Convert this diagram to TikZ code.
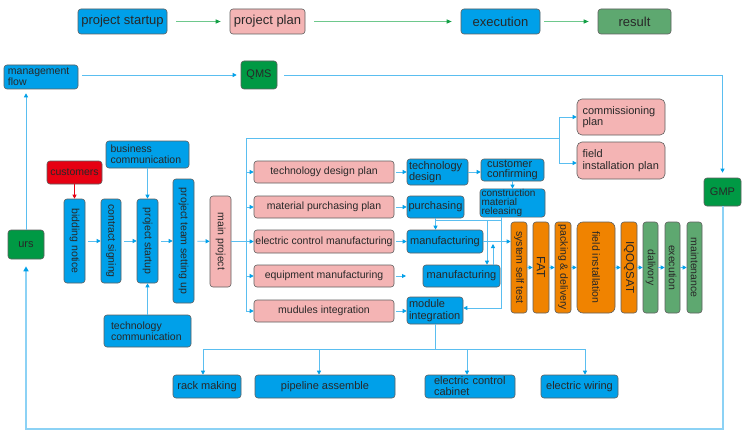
\documentclass[tikz,border=0pt]{standalone}
\usepackage{fontspec}
\setmainfont{Liberation Sans}
\usetikzlibrary{arrows.meta}
\definecolor{cBlue}{RGB}{0,160,233}
\definecolor{cPink}{RGB}{244,180,180}
\definecolor{cRed}{RGB}{230,0,18}
\definecolor{cGreen}{RGB}{0,153,68}
\definecolor{cMGreen}{RGB}{94,168,112}
\definecolor{cOrange}{RGB}{240,131,0}
\definecolor{lineC}{RGB}{90,190,240}
\definecolor{tipC}{RGB}{0,160,233}
\definecolor{gLine}{RGB}{110,200,140}
\definecolor{gTip}{RGB}{20,160,70}
\definecolor{bord}{RGB}{95,95,95}
\definecolor{txt}{RGB}{40,40,40}
\definecolor{thickC}{RGB}{140,210,245}
\tikzset{
  box/.style={draw=bord, line width=0.6pt, rounded corners=3pt, inner sep=1pt, text=txt,
    font=\fontsize{11}{11.5}\selectfont},
  fblue/.style={fill=cBlue},
  fpink/.style={fill=cPink},
  fred/.style={fill=cRed},
  fgreen/.style={fill=cGreen},
  fmgreen/.style={fill=cMGreen},
  forange/.style={fill=cOrange},
  big/.style={font=\fontsize{13}{14}\selectfont},
  mid/.style={font=\fontsize{10.5}{11}\selectfont},
  lft/.style={align=left, text width=#1},
  vtxt/.style={rotate=-90, text=txt, inner sep=0pt, font=\fontsize{10.5}{11}\selectfont},
  bline/.style={draw=lineC, line width=0.8pt},
  bar/.style={bline, -{Triangle[length=4pt,width=4pt,color=tipC]}},
  gar/.style={draw=gLine, line width=1pt, -{Triangle[length=5pt,width=4pt,color=gTip]}},
  rar/.style={draw=cRed, line width=0.8pt, -{Triangle[length=4pt,width=4pt]}},
  thk/.style={draw=thickC, line width=2pt}
}
\newcommand{\bx}[7]{\node[box,#6,minimum width={(#4-#2)*1pt},minimum height={(#5-#3)*1pt}] (#1) at ({(#2+#4)/2},{(#3+#5)/2}) {#7};}
\newcommand{\vbx}[7]{\node[box,#6,minimum width={(#4-#2)*1pt},minimum height={(#5-#3)*1pt}] (#1) at ({(#2+#4)/2},{(#3+#5)/2}) {};
\node[vtxt] (#1t) at (#1.center) {#7};}
\begin{document}
\begin{tikzpicture}[x=1pt,y=-1pt]
\useasboundingbox[fill=white] (0,0) rectangle (750,436);
% top row
\bx{ps}{78}{9}{167}{34}{fblue,big}{project startup}
\bx{pp}{230}{9}{305}{34}{fpink,big}{project plan}
\bx{ex}{461}{9}{540}{34}{fblue,big}{execution}
\bx{rs}{598}{9}{671}{34}{fmgreen,big}{result}
\draw[gar,shorten <=9pt,shorten >=9pt] (ps) -- (pp);
\draw[gar,shorten <=9pt,shorten >=9pt] (pp) -- (ex);
\draw[gar,shorten <=4pt,shorten >=9pt] (ex) -- (rs);
% management
\bx{mf}{4}{65}{78}{89}{fblue,mid,lft=66pt}{management\\flow}
\bx{qms}{241}{61}{277}{89}{fgreen}{QMS}
\bx{gmp}{704}{178}{741}{206}{fgreen}{GMP}
\bx{urs}{8}{230}{44}{259}{fgreen}{urs}
% left cluster
\bx{cust}{47}{161}{102}{184}{fred,mid}{customers}
\bx{bc}{106}{141}{189}{168}{fblue,mid,lft=74pt}{business\\communication}
\bx{tc}{104}{315}{191}{347}{fblue,mid,lft=73pt}{technology\\communication}
\vbx{bid}{64}{199}{85}{283}{fblue}{bidding notice}
\vbx{cs}{101}{199}{121}{283}{fblue}{contract signing}
\vbx{psv}{137}{199}{158}{283}{fblue}{project startup}
\vbx{pt}{173}{179}{194}{303}{fblue}{project team setting up}
\vbx{mp}{210}{196}{231}{287}{fpink}{main project}
% pink column
\bx{tdp}{254}{161}{394}{183}{fpink,mid}{technology design plan}
\bx{mpp}{254}{196}{394}{218}{fpink,mid}{material purchasing plan}
\bx{ecm}{254}{230}{394}{253}{fpink,mid}{electric control manufacturing}
\bx{eqm}{254}{265}{394}{287}{fpink,mid}{equipment manufacturing}
\bx{mip}{254}{300}{394}{322}{fpink,mid}{mudules integration}
% blue column
\bx{td}{407}{159}{468}{185}{fblue,lft=57pt}{technology\\design}
\bx{pu}{407}{196}{464}{218}{fblue}{purchasing}
\bx{mo}{407}{230}{483}{253}{fblue}{manufacturing}
\bx{mt}{423}{265}{500}{287}{fblue}{manufacturing}
\bx{mi}{407}{297}{463}{324}{fblue,lft=52pt}{module\\integration}
% third column
\bx{cc}{481}{159}{544}{181}{fblue,lft=51pt,font=\fontsize{11}{10.5}\selectfont}{customer\\confirming}
\bx{cmr}{480}{189}{545}{217}{fblue,lft=62pt,inner ysep=0pt,font=\fontsize{10}{9.4}\selectfont}{construction\\material\\releasing}
\bx{cpn}{577}{99}{665}{135}{fpink,lft=77pt,rounded corners=5pt}{commissioning\\plan}
\bx{fip}{577}{142}{665}{179}{fpink,lft=77pt,rounded corners=5pt}{field\\installation plan}
% process
\vbx{sst}{511}{222}{527}{313}{forange}{system self test}
\vbx{fat}{533}{222}{549}{313}{forange}{\fontsize{12}{12}\selectfont FAT}
\vbx{pd}{555}{222}{571}{313}{forange}{packing \& delivery}
\vbx{fi}{577}{222}{615}{313}{forange,rounded corners=6pt}{field installation}
\vbx{iq}{621}{222}{637}{313}{forange}{\fontsize{11.5}{12}\selectfont IQOQSAT}
\vbx{dal}{643}{222}{658}{313}{fmgreen}{dalivory}
\vbx{exv}{665}{222}{680}{313}{fmgreen}{execution}
\vbx{mnt}{687}{222}{702}{313}{fmgreen}{maintenance}
% bottom
\bx{rk}{173}{375}{241}{398}{fblue}{rack making}
\bx{pa}{255}{375}{395}{398}{fblue}{pipeline assemble}
\bx{ecc}{425}{375}{515}{398}{fblue,lft=72pt,font=\fontsize{11}{11}\selectfont}{electric control\\cabinet}
\bx{ew}{541}{375}{618}{398}{fblue}{electric wiring}
% coordinates
\coordinate (gB) at (722.5,429);
\coordinate (uB) at (26,429);
\coordinate (bt) at (246,138);
\coordinate (bb) at (246,311);
\coordinate (bj) at (559,138);
\coordinate (bjt) at (559,117);
\coordinate (bjb) at (559,163);
\coordinate (eqe) at (406,276);
\coordinate (cA) at (501,217);
\coordinate (cB) at (501,220);
\coordinate (cC) at (436,220);
\coordinate (cD) at (501,308);
\coordinate (cE) at (487,220);
\coordinate (cG) at (493,265);
\coordinate (cH) at (493,244);
\coordinate (mB) at (435,349);
\coordinate (hL) at (203,349);
\coordinate (hR) at (585,349);
\coordinate (h2) at (319,349);
\coordinate (h3) at (467,349);
% management connectors
\draw[bar,shorten <=4pt,shorten >=4pt] (mf.east |- qms) -- (qms.west);
\draw[bar,shorten <=7pt,shorten >=5pt] (qms.east) -| (gmp.north);
\draw[thk,-{Triangle[length=5pt,width=5pt,color=tipC]},shorten >=7pt] (gmp.south) -- (gB) -- (uB) -- (urs.south);
\draw[bar,shorten >=4pt] (urs.north) -- (urs.north |- mf.south);
% left cluster
\draw[rar] (cust) -- (bid);
\draw[bar] (bc) -- (psv);
\draw[bar] (tc) -- (psv);
\draw[bar,shorten <=3pt] (bid) -- (cs);
\draw[bar,shorten <=3pt] (cs) -- (psv);
\draw[bar,shorten <=3pt] (psv) -- (pt);
\draw[bar,shorten <=3pt] (pt) -- (mp);
\draw[bar] (mp) -- (ecm);
% bus
\draw[bline] (bb) -- (bt) -- (bj);
\draw[bline] (bjt) -- (bjb);
\draw[bar] (bt |- tdp) -- (tdp.west);
\draw[bar] (bt |- mpp) -- (mpp.west);
\draw[bar] (bt |- eqm) -- (eqm.west);
\draw[bar] (bb) -- (bb -| mip.west);
\draw[bar] (bjt) -- (cpn.west);
\draw[bar] (bjb) -- (bjb -| fip.west);
% pink to blue
\draw[bar,shorten <=2pt] (tdp.east) -- (tdp.east -| td.west);
\draw[bar,shorten <=2pt] (mpp.east) -- (mpp.east -| pu.west);
\draw[bar,shorten <=2pt] (ecm.east) -- (ecm.east -| mo.west);
\draw[bar,shorten <=2pt] (eqm.east) -- (eqe);
\draw[bar,shorten <=2pt] (mip.east) -- (mip.east -| mi.west);
% third column
\draw[bar] (td.east) -- (td.east -| cc.west);
\draw[bar] (cc) -- (cmr);
\draw[bar] (pu) -- (pu |- mo.north);
\draw[bline] (cB) -- (cC);
\draw[bar] (cA) -- (cD) -- (cD -| mi.east);
\draw[bar] (cE) -- (cE |- mt.north);
\draw[bar] (cG) -- (cH);
\draw[bar] (mo.east) -- (mo.east -| sst.west);
% process chain
\draw[bar] (sst) -- (fat);
\draw[bar] (fat) -- (pd);
\draw[bar] (pd) -- (fi);
\draw[bar] (fi) -- (iq);
\draw[bar] (iq) -- (dal);
\draw[bar] (dal) -- (exv);
\draw[bar] (exv) -- (mnt);
% module integration to bottom
\draw[bline] (mi.south) -- (mB);
\draw[bline] (hL) -- (hR);
\draw[bar] (hL) -- (hL |- rk.north);
\draw[bar] (h2) -- (h2 |- pa.north);
\draw[bar] (h3) -- (h3 |- ecc.north);
\draw[bar] (hR) -- (hR |- ew.north);
\end{tikzpicture}
\end{document}
